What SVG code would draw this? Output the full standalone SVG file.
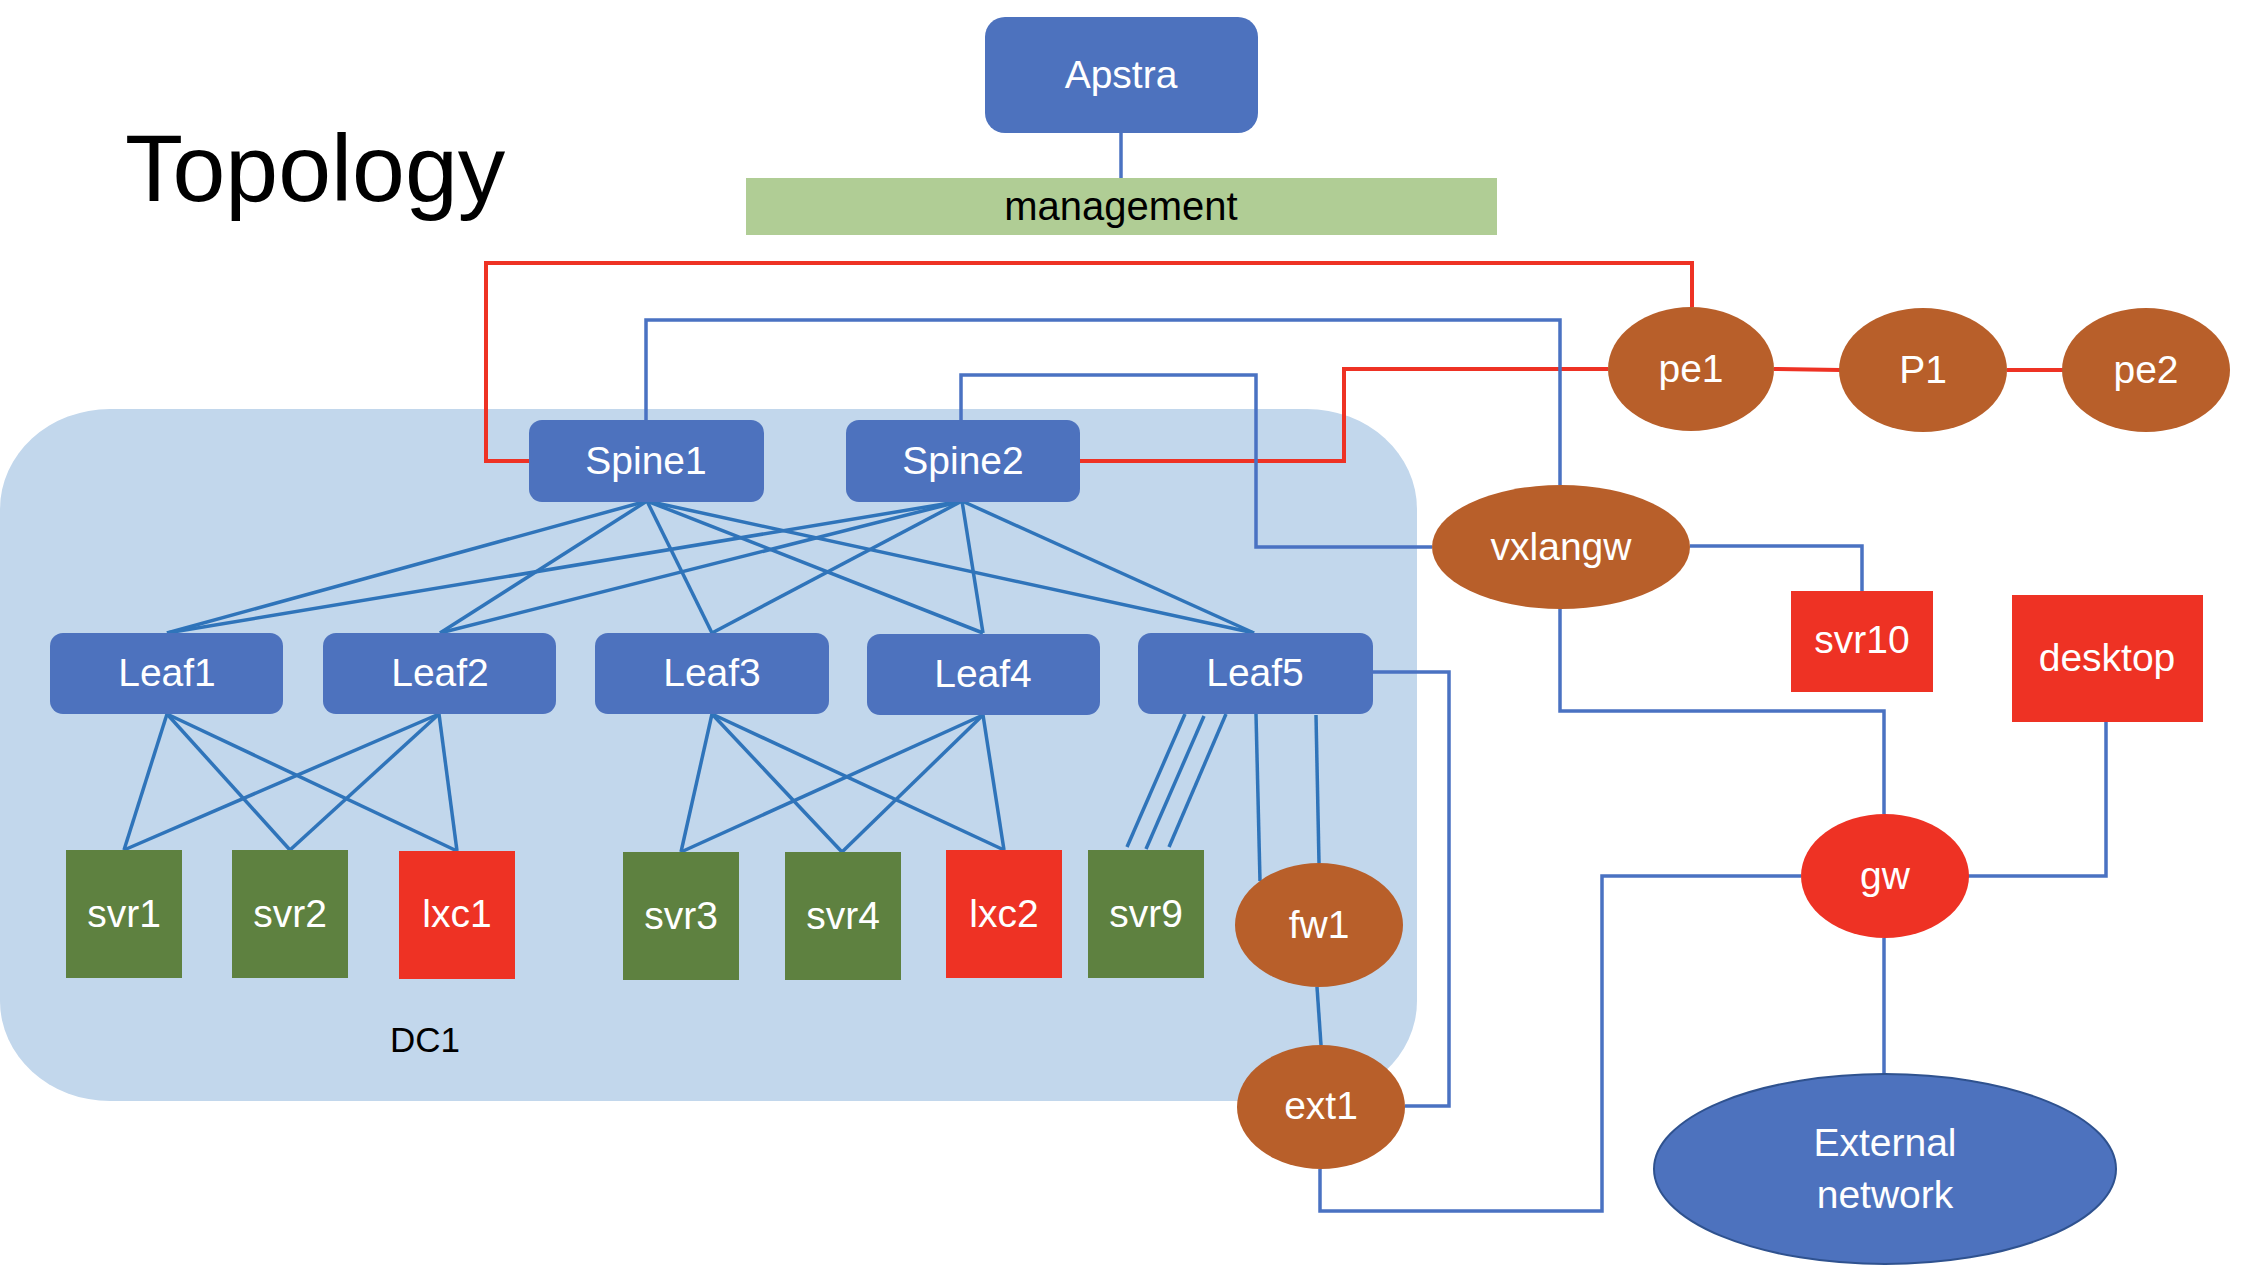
<svg xmlns="http://www.w3.org/2000/svg" width="2251" height="1269" viewBox="0 0 2251 1269">
<style>
text{font-family:"Liberation Sans",Arial,sans-serif;text-anchor:middle}
.lbl{fill:#fff;font-size:39px}
.blue{fill:#4D72BE}
.green{fill:#5E8140}
.red{fill:#EE3224}
.brown{fill:#B85F2A}
.mesh{stroke:#2F74BA;stroke-width:3.5;fill:none}
.ob{stroke:#4A72C2;stroke-width:3.5;fill:none}
.or{stroke:#EE3224;stroke-width:4;fill:none}
</style>
<rect width="2251" height="1269" fill="#fff"/>
<g id="dc1">
<rect x="0" y="409" width="1417" height="692" rx="110" ry="100" fill="#C2D7EC"/>
<text x="425" y="1052" style="font-size:35px;fill:#000">DC1</text>
</g>
<text id="title" x="125" y="201" style="text-anchor:start;font-size:95px;fill:#000">Topology</text>
<g id="connectors">
<line class="ob" x1="1121" y1="133" x2="1121" y2="178"/>
<polyline class="or" points="529,461 486,461 486,263 1692,263 1692,307"/>
<polyline class="or" points="1080,461 1344,461 1344,369 1608,369"/>
<line class="or" x1="1774" y1="369" x2="1840" y2="370"/>
<line class="or" x1="2007" y1="370" x2="2063" y2="370"/>
<polyline class="ob" points="646,420 646,320 1560,320 1560,485"/>
<polyline class="ob" points="961,420 961,375 1256,375 1256,547 1432,547"/>
<polyline class="ob" points="1690,546 1862,546 1862,591"/>
<polyline class="ob" points="1560,608 1560,711 1884,711 1884,814"/>
<polyline class="ob" points="2106,722 2106,876 1968,876"/>
<line class="ob" x1="1884" y1="938" x2="1884" y2="1074"/>
<polyline class="ob" points="1373,672 1449,672 1449,1106 1405,1106"/>
<polyline class="ob" points="1320,1169 1320,1211 1602,1211 1602,876 1801,876"/>
<line class="mesh" x1="1317" y1="987" x2="1321" y2="1045"/>
<line class="mesh" x1="647" y1="501" x2="167" y2="633"/>
<line class="mesh" x1="647" y1="501" x2="440" y2="633"/>
<line class="mesh" x1="647" y1="501" x2="712" y2="633"/>
<line class="mesh" x1="647" y1="501" x2="983" y2="633"/>
<line class="mesh" x1="647" y1="501" x2="1254" y2="633"/>
<line class="mesh" x1="962" y1="501" x2="167" y2="633"/>
<line class="mesh" x1="962" y1="501" x2="440" y2="633"/>
<line class="mesh" x1="962" y1="501" x2="712" y2="633"/>
<line class="mesh" x1="962" y1="501" x2="983" y2="633"/>
<line class="mesh" x1="962" y1="501" x2="1254" y2="633"/>
<line class="mesh" x1="167" y1="714" x2="124" y2="850"/>
<line class="mesh" x1="167" y1="714" x2="290" y2="850"/>
<line class="mesh" x1="167" y1="714" x2="457" y2="851"/>
<line class="mesh" x1="439" y1="714" x2="124" y2="850"/>
<line class="mesh" x1="439" y1="714" x2="290" y2="850"/>
<line class="mesh" x1="439" y1="714" x2="457" y2="851"/>
<line class="mesh" x1="712" y1="714" x2="681" y2="852"/>
<line class="mesh" x1="712" y1="714" x2="842" y2="852"/>
<line class="mesh" x1="712" y1="714" x2="1004" y2="850"/>
<line class="mesh" x1="983" y1="715" x2="681" y2="852"/>
<line class="mesh" x1="983" y1="715" x2="842" y2="852"/>
<line class="mesh" x1="983" y1="715" x2="1004" y2="850"/>
<line class="mesh" x1="1185" y1="714" x2="1127" y2="847"/>
<line class="mesh" x1="1204" y1="716" x2="1146" y2="849"/>
<line class="mesh" x1="1226" y1="714" x2="1169" y2="847"/>
<line class="mesh" x1="1256" y1="714" x2="1260" y2="881"/>
<line class="mesh" x1="1316" y1="715" x2="1319" y2="863"/>
</g>
<g id="apstra"><rect class="blue" x="985" y="17" width="273" height="116" rx="20"/><text class="lbl" x="1121" y="88">Apstra</text></g>
<g id="management"><rect x="746" y="178" width="751" height="57" fill="#B0CD95"/><text x="1121" y="220" style="font-size:40px;fill:#000">management</text></g>
<g id="spine1"><rect class="blue" x="529" y="420" width="235" height="82" rx="13"/><text class="lbl" x="646" y="474">Spine1</text></g>
<g id="spine2"><rect class="blue" x="846" y="420" width="234" height="82" rx="13"/><text class="lbl" x="963" y="474">Spine2</text></g>
<g id="leaf1"><rect class="blue" x="50" y="633" width="233" height="81" rx="13"/><text class="lbl" x="167" y="686">Leaf1</text></g>
<g id="leaf2"><rect class="blue" x="323" y="633" width="233" height="81" rx="13"/><text class="lbl" x="440" y="686">Leaf2</text></g>
<g id="leaf3"><rect class="blue" x="595" y="633" width="234" height="81" rx="13"/><text class="lbl" x="712" y="686">Leaf3</text></g>
<g id="leaf4"><rect class="blue" x="867" y="634" width="233" height="81" rx="13"/><text class="lbl" x="983" y="687">Leaf4</text></g>
<g id="leaf5"><rect class="blue" x="1138" y="633" width="235" height="81" rx="13"/><text class="lbl" x="1255" y="686">Leaf5</text></g>
<g id="svr1"><rect class="green" x="66" y="850" width="116" height="128"/><text class="lbl" x="124" y="927">svr1</text></g>
<g id="svr2"><rect class="green" x="232" y="850" width="116" height="128"/><text class="lbl" x="290" y="927">svr2</text></g>
<g id="lxc1"><rect class="red" x="399" y="851" width="116" height="128"/><text class="lbl" x="457" y="927">lxc1</text></g>
<g id="svr3"><rect class="green" x="623" y="852" width="116" height="128"/><text class="lbl" x="681" y="929">svr3</text></g>
<g id="svr4"><rect class="green" x="785" y="852" width="116" height="128"/><text class="lbl" x="843" y="929">svr4</text></g>
<g id="lxc2"><rect class="red" x="946" y="850" width="116" height="128"/><text class="lbl" x="1004" y="927">lxc2</text></g>
<g id="svr9"><rect class="green" x="1088" y="850" width="116" height="128"/><text class="lbl" x="1146" y="927">svr9</text></g>
<g id="fw1"><ellipse class="brown" cx="1319" cy="925" rx="84" ry="62"/><text class="lbl" x="1319" y="938">fw1</text></g>
<g id="ext1"><ellipse class="brown" cx="1321" cy="1107" rx="84" ry="62"/><text class="lbl" x="1321" y="1119">ext1</text></g>
<g id="pe1"><ellipse class="brown" cx="1691" cy="369" rx="83" ry="62"/><text class="lbl" x="1691" y="382">pe1</text></g>
<g id="p1"><ellipse class="brown" cx="1923" cy="370" rx="84" ry="62"/><text class="lbl" x="1923" y="383">P1</text></g>
<g id="pe2"><ellipse class="brown" cx="2146" cy="370" rx="84" ry="62"/><text class="lbl" x="2146" y="383">pe2</text></g>
<g id="vxlangw"><ellipse class="brown" cx="1561" cy="547" rx="129" ry="62"/><text class="lbl" x="1561" y="560">vxlangw</text></g>
<g id="svr10"><rect class="red" x="1791" y="591" width="142" height="101"/><text class="lbl" x="1862" y="653">svr10</text></g>
<g id="desktop"><rect class="red" x="2012" y="595" width="191" height="127"/><text class="lbl" x="2107" y="671">desktop</text></g>
<g id="gw"><ellipse class="red" cx="1885" cy="876" rx="84" ry="62"/><text class="lbl" x="1885" y="889">gw</text></g>
<g id="external"><ellipse class="blue" cx="1885" cy="1169" rx="231" ry="95" stroke="#2F528F" stroke-width="2"/><text class="lbl" x="1885" y="1156">External</text><text class="lbl" x="1885" y="1208">network</text></g>
</svg>
